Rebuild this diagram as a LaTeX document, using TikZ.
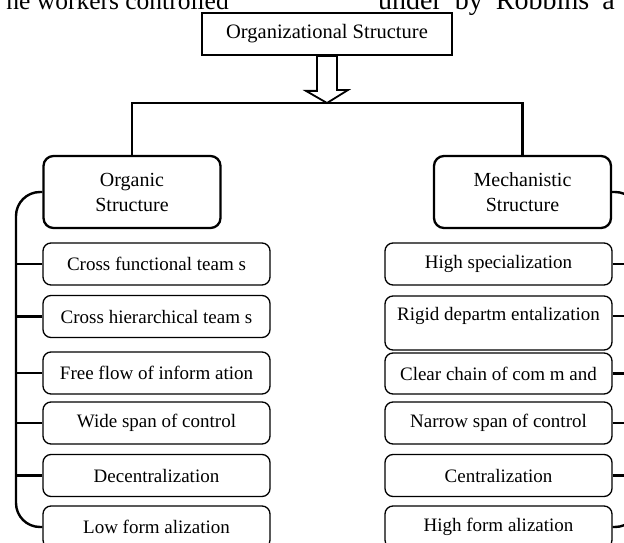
\documentclass[tikz,border=0pt]{standalone}
\usepackage{fontspec}
\setmainfont{Liberation Serif}
\newfontfamily\bigserif{Liberation Serif}
\usetikzlibrary{calc}
\begin{document}
\begin{tikzpicture}[x=1pt,y=-1pt,
  txt/.style={font=\fontsize{19}{25}\selectfont},
  topbox/.style={draw, line width=1.8pt, minimum width=250pt, minimum height=42pt, inner sep=0pt, fill=white, font=\fontsize{20.5}{25}\selectfont},
  headbox/.style={draw, line width=2.3pt, rounded corners=10pt, minimum width=177pt, minimum height=72pt, align=center, inner sep=0pt, font=\fontsize{20}{25}\selectfont},
  item/.style={draw, line width=1.3pt, rounded corners=8pt, minimum width=227pt, minimum height=42pt, inner sep=0pt, txt},
  conn/.style={line width=2.4pt},
  bigtxt/.style={font=\bigserif\fontsize{25.5}{30}\selectfont, inner sep=0pt},
]
\useasboundingbox (0,0) rectangle (624,543);
\clip (0,0) rectangle (624,543);

% clipped running text of the page
\node[bigtxt, anchor=base east] (txtl) at (229,10) {he workers controlled};
\node[bigtxt, anchor=base west, font=\bigserif\fontsize{28}{30}\selectfont] (txtr) at (378,10) {\spaceskip=13pt under by Robbins a};

% top
\node[topbox] (top) at (327,34) {Organizational Structure};
\coordinate (bar) at (327,103);

% heads
\node[headbox] (org) at (132,192) {Organic\\Structure};
\node[headbox] (mech) at (522.5,192) {Mechanistic\\Structure};

% left items
\node[item] (l1) at (156.5,264) {Cross functional team s};
\node[item] (l2) at (156.5,316.5) {Cross hierarchical team s};
\node[item] (l3) at (156.5,373) {Free flow of inform ation};
\node[item] (l4) at (156.5,423) {Wide span of control};
\node[item] (l5) at (156.5,475.5) {Decentralization};
\node[item] (l6) at (156.5,527) {Low form alization};

% right items
\node[item] (r1) at (498.5,264) {High specialization};
\node[item, minimum height=54pt] (r2) at (498.5,323) {\raisebox{7pt}[\height][\depth]{Rigid departm entalization}};
\node[item, minimum height=41pt] (r3) at (498.5,373.5) {Clear chain of com m and};
\node[item] (r4) at (498.5,423) {Narrow span of control};
\node[item] (r5) at (498.5,475.5) {Centralization};
\node[item] (r6) at (498.5,527) {High form alization};

% hollow arrow from top box to bar
\draw[line width=1.8pt, fill=white] ($(top.south)+(-10,0)$) -- ++(0,35) -- ++(-11,0)
  -- (bar) -- ++(21,-13) -- ++(-11,0) -- ($(top.south)+(10,0)$) -- cycle;

% bar to heads
\draw[conn] (org.north) |- (bar) -| (mech.north);

% left bracket
\coordinate (lb) at (16,527);
\draw[conn, rounded corners=24pt] (org.west) -| (lb) -- (l6.west);
\foreach \n in {l1,l2,l3,l4,l5}{\draw[conn] (\n.west) -- (\n.west -| lb);}

% right bracket
\coordinate (rb) at (639,527);
\draw[conn, rounded corners=24pt] (mech.east) -| (rb) -- (r6.east);
\foreach \n in {r1,r3,r4,r5}{\draw[conn] (\n.east) -- (\n.east -| rb);}
\coordinate (r2t) at ($(r2.east)+(0,-7)$);
\draw[conn] (r2t) -- (r2t -| rb);
\end{tikzpicture}
\end{document}
